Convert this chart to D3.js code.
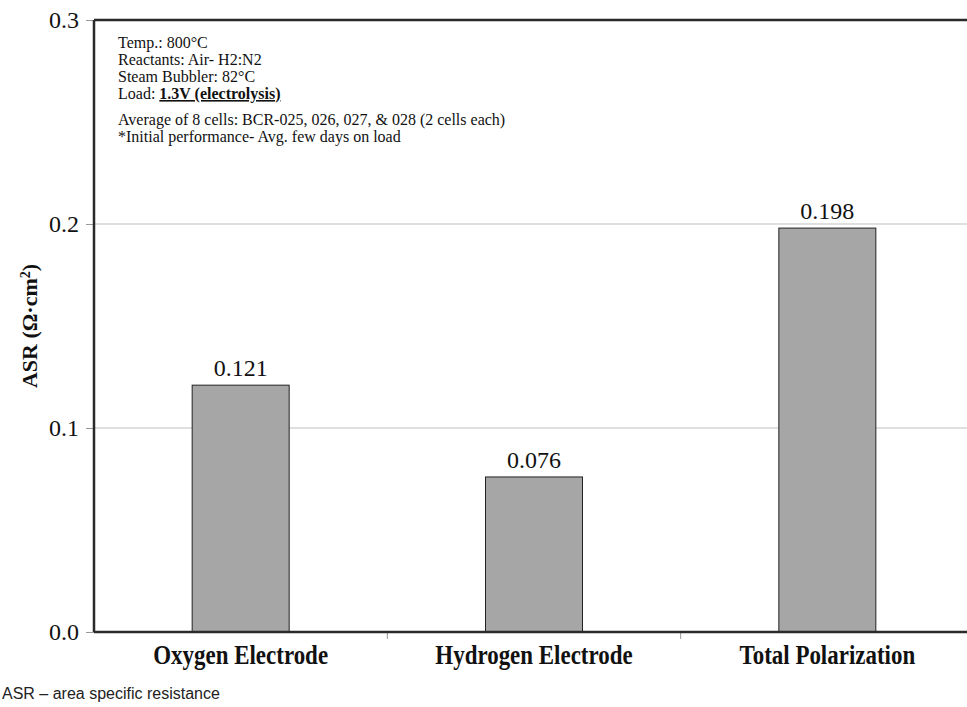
<!DOCTYPE html>
<html>
<head>
<meta charset="utf-8">
<script src="https://cdn.jsdelivr.net/npm/d3@7"></script>
<style>
  body { margin: 0; background: #fff; }
</style>
</head>
<body>
<div id="chart"></div>
<script>
let categories = ['Oxygen Electrode', 'Hydrogen Electrode', 'Total Polarization']
let values = [0.121, 0.076, 0.198]
let valueLabels = ['0.121', '0.076', '0.198']
let yTicks = [0, 0.1, 0.2, 0.3]
let notes = [
  'Temp.: 800°C',
  'Reactants: Air- H2:N2',
  'Steam Bubbler: 82°C',
  'Load: ',
  '',
  'Average of 8 cells: BCR-025, 026, 027, & 028 (2 cells each)',
  '*Initial performance- Avg. few days on load'
]

let W = 967
let H = 707
let margin = { top: 20, left: 94, right: -7, bottom: 75 }
let width = W - margin.left - margin.right
let height = H - margin.top - margin.bottom
let serif = "'Liberation Serif', 'Times New Roman', serif"

let root = d3
  .select('#chart')
  .append('svg')
  .attr('width', W)
  .attr('height', H)

let svg = root
  .append('g')
  .attr('transform', 'translate(' + margin.left + ',' + margin.top + ')')

let x = d3.scaleBand().domain(categories).range([0, width]).paddingInner(0).paddingOuter(0)
let y = d3.scaleLinear().domain([0, 0.3]).range([height, 0])

// gridlines
svg
  .selectAll('.grid')
  .data([0.1, 0.2])
  .enter()
  .append('line')
  .attr('x1', 0)
  .attr('x2', width)
  .attr('y1', d => y(d))
  .attr('y2', d => y(d))
  .attr('stroke', '#c0c0c0')
  .attr('stroke-width', 1.2)

// bars
let barW = 97
svg
  .selectAll('.bar')
  .data(values)
  .enter()
  .append('rect')
  .attr('x', (d, i) => x(categories[i]) + x.bandwidth() / 2 - barW / 2)
  .attr('y', d => y(d))
  .attr('width', barW)
  .attr('height', d => height - y(d))
  .attr('fill', '#a6a6a6')
  .attr('stroke', '#222')
  .attr('stroke-width', 1)

// value labels
svg
  .selectAll('.val')
  .data(values)
  .enter()
  .append('text')
  .attr('x', (d, i) => x(categories[i]) + x.bandwidth() / 2)
  .attr('y', d => y(d) - 9)
  .attr('text-anchor', 'middle')
  .style('font-family', serif)
  .style('font-size', '24px')
  .attr('fill', '#111')
  .text((d, i) => valueLabels[i])

// axes
let yAxis = svg.append('g').call(d3.axisLeft(y).tickValues(yTicks).tickFormat(d3.format('.1f')).tickSize(8))
yAxis.select('.domain').remove()
yAxis.selectAll('.tick line').attr('stroke', '#999').attr('stroke-width', 1)
yAxis
  .selectAll('.tick text')
  .style('font-family', serif)
  .style('font-size', '24px')
  .attr('fill', '#111')
  .attr('dx', -4)

let xAxis = svg
  .append('g')
  .attr('transform', 'translate(0,' + height + ')')
  .call(d3.axisBottom(x).tickSize(0))
xAxis.select('.domain').remove()
xAxis.selectAll('.tick line').remove()
xAxis
  .selectAll('.tick text')
  .style('font-family', serif)
  .style('font-weight', 'bold')
  .style('font-size', '27px')
  .attr('fill', '#111')
  .attr('dy', null)
  .attr('y', 32)
  .attr('transform', 'scale(0.85,1)')

// band boundary ticks on bottom axis
svg
  .selectAll('.btick')
  .data(categories.slice(1))
  .enter()
  .append('line')
  .attr('x1', d => x(d))
  .attr('x2', d => x(d))
  .attr('y1', height)
  .attr('y2', height + 7)
  .attr('stroke', '#999')

// frame lines
svg.append('line').attr('x1', 0).attr('x2', 0).attr('y1', 0).attr('y2', height)
  .attr('stroke', '#2a2a2a').attr('stroke-width', 2.5)
svg.append('line').attr('x1', 0).attr('x2', width).attr('y1', 0).attr('y2', 0)
  .attr('stroke', '#2a2a2a').attr('stroke-width', 2.5)
svg.append('line').attr('x1', 0).attr('x2', width).attr('y1', height).attr('y2', height)
  .attr('stroke', '#2a2a2a').attr('stroke-width', 2.5)

// y axis title
root
  .append('text')
  .attr('transform', 'translate(37,' + (margin.top + height / 2) + ') rotate(-90)')
  .attr('text-anchor', 'middle')
  .style('font-family', serif)
  .style('font-weight', 'bold')
  .style('font-size', '22px')
  .attr('fill', '#111')
  .html('ASR (Ω·cm<tspan baseline-shift="super" font-size="14">2</tspan>)')

// notes box text
let noteG = svg.append('g').attr('transform', 'translate(24,0)')
let lineY = [28, 45, 62, 79, 96, 105, 122]
notes.forEach((t, i) => {
  if (!t) return
  let txt = noteG
    .append('text')
    .attr('x', 0)
    .attr('y', lineY[i])
    .style('font-family', serif)
    .style('font-size', '16px')
    .attr('fill', '#111')
    .text(t)
  if (t === 'Load: ') {
    txt
      .append('tspan')
      .style('font-weight', 'bold')
      .style('text-decoration', 'underline')
      .text('1.3V (electrolysis)')
  }
})

// footnote
root
  .append('text')
  .attr('x', 2)
  .attr('y', 699)
  .style('font-family', "'Liberation Sans', Arial, sans-serif")
  .style('font-size', '16px')
  .attr('fill', '#222')
  .text('ASR – area specific resistance')
</script>
</body>
</html>
